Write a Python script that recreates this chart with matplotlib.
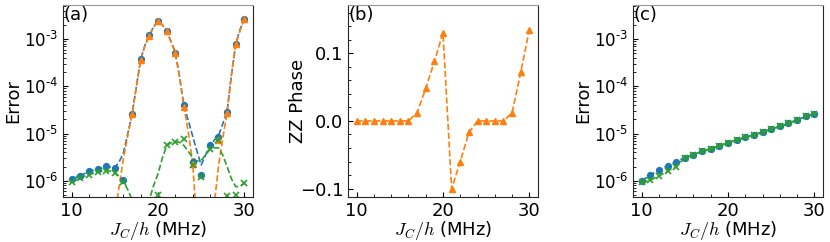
import numpy as np
import matplotlib
matplotlib.use("Agg")
import matplotlib.pyplot as plt
from matplotlib.ticker import AutoMinorLocator, LogLocator, FuncFormatter

# ---------------- data ----------------
x_pts = list(range(10, 31))
x_fine = [10 + 0.5 * i for i in range(41)]

# panel (a) markers
a_blue = [1.08e-6, 1.28e-6, 1.6e-6, 1.76e-6, 2.04e-6, 1.85e-6, 1.05e-6, 2.6e-5, 3.8e-4, 1.2e-3,
          2.45e-3, 1.5e-3, 5.2e-4, 4.1e-5, 2.45e-6, 1.35e-6, 5.7e-6, 8.4e-6, 2.85e-5, 7.9e-4, 2.7e-3]
a_orange = [np.nan] * 7 + [2.55e-5, 3.7e-4, 1.18e-3, 2.4e-3, 1.46e-3, 5.0e-4, 3.6e-5, 2.3e-6,
                           np.nan, np.nan, 7.3e-6, 2.75e-5, 7.7e-4, 2.65e-3]
a_green = [9.3e-7, 1.12e-6, 1.35e-6, 1.5e-6, 1.63e-6, 1.47e-6, 9.2e-7, np.nan, np.nan, np.nan,
           4.9e-7, 5.7e-6, 6.6e-6, 7.5e-6, 2.15e-6, 1.2e-6, 4.8e-6, 7.3e-6, 4.7e-7, 5.1e-7, 8.8e-7]

# panel (a) dashed model curves (0.5 MHz step)
a_blue_curve = [1.1e-6, 1.18e-6, 1.28e-6, 1.42e-6, 1.58e-6, 1.66e-6, 1.74e-6, 1.88e-6, 2.0e-6, 1.95e-6,
                1.9e-6, 2.5e-6, 3.9e-6, 1.0e-5, 2.6e-5, 1.0e-4, 3.8e-4, 7.5e-4, 1.2e-3, 1.85e-3,
                2.5e-3, 2.0e-3, 1.5e-3, 9.0e-4, 5.3e-4, 1.6e-4, 4.0e-5, 1.9e-5, 9.0e-6, 4.3e-6,
                2.15e-6, 3.5e-6, 5.6e-6, 7.2e-6, 9.0e-6, 1.6e-5, 3.0e-5, 1.7e-4, 8.0e-4, 1.6e-3, 2.7e-3]
a_orange_curve = [1e-9] * 10 + [1.9e-7, 7.6e-7, 3.0e-6, 9.0e-6, 2.5e-5, 1.0e-4, 3.7e-4, 7.3e-4, 1.2e-3,
                                1.8e-3, 2.4e-3, 2.0e-3, 1.48e-3, 8.8e-4, 5.1e-4, 1.5e-4, 3.7e-5, 1.1e-5,
                                2.5e-6, 1.3e-7, 1e-9, 1e-9, 1e-9, 3e-7, 2.0e-6, 8.0e-6, 2.75e-5, 1.8e-4,
                                7.8e-4, 1.5e-3, 2.7e-3]
a_green_curve = [9.5e-7, 1.05e-6, 1.14e-6, 1.25e-6, 1.35e-6, 1.44e-6, 1.52e-6, 1.58e-6, 1.62e-6, 1.6e-6,
                 1.48e-6, 1.25e-6, 9.5e-7, 6.5e-7, 4.0e-7, 1.5e-7, 1.0e-7, 1.8e-7, 4.0e-7, 8.0e-7,
                 1.4e-6, 3.0e-6, 5.5e-6, 6.4e-6, 6.8e-6, 6.5e-6, 5.6e-6, 4.2e-6, 3.1e-6, 2.6e-6,
                 2.7e-6, 3.5e-6, 4.6e-6, 5.0e-6, 5.0e-6, 3.5e-6, 2.0e-6, 1.1e-6, 7.5e-7, 7.6e-7, 9.0e-7]

# panel (b) ZZ phase
b_phase = [0.0, 0.0, 0.0, 0.0, 0.0, 0.0, 0.0, 0.0123, 0.048, 0.088, 0.130, -0.1005, -0.060, -0.017,
           0.0, 0.0, 0.0, 0.0, 0.012, 0.072, 0.135]

# panel (c)
c_blue = [1.0e-6, 1.32e-6, 1.68e-6, 2.08e-6, 2.53e-6, 3.1e-6, 3.6e-6, 4.2e-6, 4.8e-6, 5.5e-6,
          6.4e-6, 7.3e-6, 8.3e-6, 9.4e-6, 1.08e-5, 1.25e-5, 1.42e-5, 1.65e-5, 1.95e-5, 2.3e-5, 2.65e-5]
c_green = [9.2e-7, 1.03e-6, 1.26e-6, 1.6e-6, 1.98e-6, 3.1e-6, 3.6e-6, 4.2e-6, 4.8e-6, 5.5e-6,
           6.4e-6, 7.3e-6, 8.3e-6, 9.4e-6, 1.08e-5, 1.25e-5, 1.42e-5, 1.65e-5, 1.95e-5, 2.3e-5, 2.65e-5]

panel_labels = ["(a)", "(b)", "(c)"]
xlabel = r"$J_C/h$ (MHz)"

# ---------------- style ----------------
C_BLUE, C_ORANGE, C_GREEN = "#1f77b4", "#ff7f0e", "#2ca02c"
FS = 13
plt.rcParams["font.family"] = ["DejaVu Sans"]
plt.rcParams["font.size"] = FS

fig = plt.figure(figsize=(8.3, 2.42), dpi=100)
W, H = 830.0, 242.0
bottom = 1 - 196.7 / H
height = (196.7 - 5.3) / H
lefts = [63, 348, 633]
axs = [fig.add_axes([l / W, bottom, 190 / W, height]) for l in lefts]

ms = 4.2
lw = 1.2


def log_label(v, pos):
    e = int(round(np.log10(v)))
    if e < 0:
        return r"$10^{\text{-}%d}$" % (-e)
    return r"$10^{%d}$" % e


def style(ax):
    ax.tick_params(which="both", direction="in", top=False, right=False, labelsize=FS)
    ax.tick_params(which="major", length=3.5)
    ax.tick_params(which="minor", length=2)
    ax.xaxis.set_minor_locator(AutoMinorLocator())
    ax.spines["top"].set_color("0.6")
    for s in ["left", "right", "bottom"]:
        ax.spines[s].set_color("0.15")
    ax.set_xlim(9, 31)
    ax.set_xticks([10, 20, 30])
    ax.set_xlabel(xlabel, fontsize=FS, labelpad=-0.5, math_fontfamily="cm")

# (a)
ax = axs[0]
ax.plot(x_fine, a_blue_curve, "--", color=C_BLUE, lw=lw)
ax.plot(x_fine, a_orange_curve, "--", color=C_ORANGE, lw=lw)
ax.plot(x_fine, a_green_curve, "--", color=C_GREEN, lw=lw)
ax.plot(x_pts, a_blue, "o", color=C_BLUE, ms=ms, ls="none")
ax.plot(x_pts, a_orange, "^", color=C_ORANGE, ms=ms, ls="none")
ax.plot(x_pts, a_green, "x", color=C_GREEN, ms=ms, mew=1.2, ls="none")
ax.set_yscale("log")
ax.set_ylim(4.6e-7, 5.2e-3)
ax.set_ylabel("Error", fontsize=FS)

# (b)
ax = axs[1]
ax.plot(x_pts, b_phase, "--^", color=C_ORANGE, ms=ms, lw=lw)
ax.set_ylim(-0.112, 0.171)
ax.set_yticks([-0.1, 0.0, 0.1])
ax.yaxis.set_minor_locator(AutoMinorLocator())
ax.set_ylabel("ZZ Phase", fontsize=FS)

# (c)
ax = axs[2]
ax.plot(x_pts, c_blue, "--o", color=C_BLUE, ms=ms, lw=lw)
ax.plot(x_pts, c_green, "--x", color=C_GREEN, ms=ms, mew=1.2, lw=lw)
ax.set_yscale("log")
ax.set_ylim(4.6e-7, 5.2e-3)
ax.set_ylabel("Error", fontsize=FS)

for ax, lab in zip(axs, panel_labels):
    style(ax)
    ax.text(0.005, 0.995, lab, transform=ax.transAxes, ha="left", va="top", fontsize=FS)
    ax.yaxis.set_label_coords(-0.215, 0.5)

for ax in (axs[0], axs[2]):
    ax.yaxis.set_major_locator(LogLocator(base=10, numticks=10))
    ax.yaxis.set_minor_locator(LogLocator(base=10, subs=np.arange(2, 10), numticks=10))
    ax.yaxis.set_major_formatter(FuncFormatter(log_label))
    ax.tick_params(axis="y", which="major", labelsize=12)

fig.savefig("out.png", dpi=100)
